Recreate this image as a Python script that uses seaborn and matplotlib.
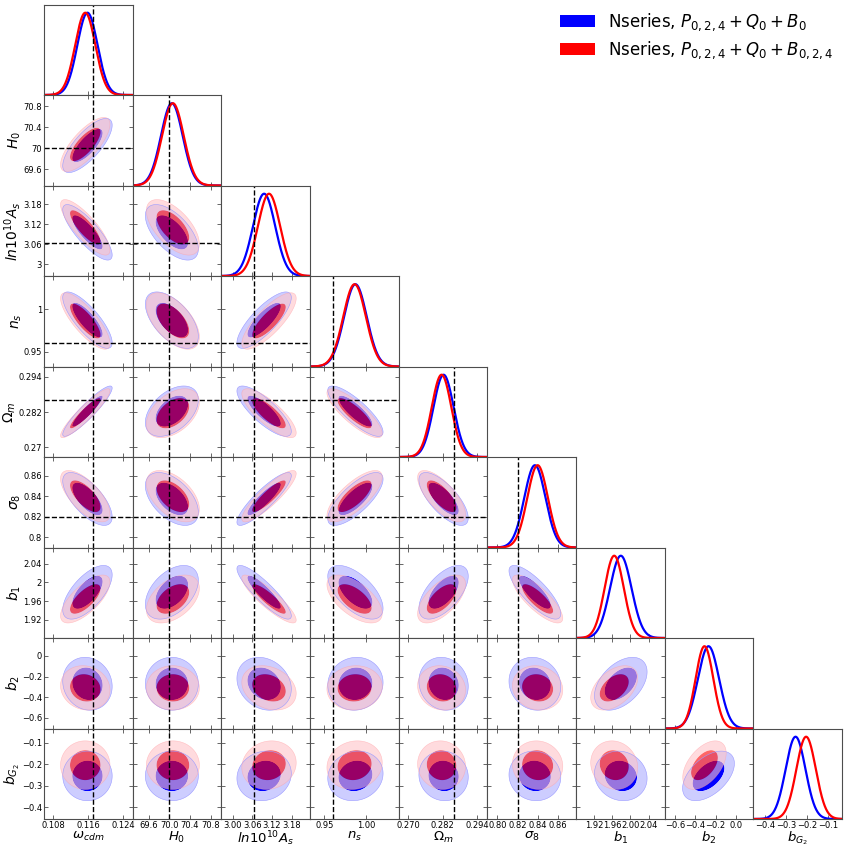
import numpy as np
import matplotlib
matplotlib.use("Agg")
import matplotlib.pyplot as plt
import seaborn as sns
from matplotlib.patches import Patch
from matplotlib.ticker import FuncFormatter

# parameters of the triangle plot
labels = [r'$\omega_{cdm}$', r'$H_0$', r'$ln10^{10}A_s$', r'$n_s$', r'$\Omega_m$',
          r'$\sigma_8$', r'$b_1$', r'$b_2$', r'$b_{G_2}$']
limits = [(0.1059, 0.1261), (69.29, 71.01), (2.965, 3.2365), (0.9327, 1.0387),
          (0.2667, 0.2975), (0.790, 0.878), (1.881, 2.075), (-0.705, 0.175), (-0.455, -0.035)]
ticks = [[0.108, 0.116, 0.124], [69.6, 70.0, 70.4, 70.8], [3.00, 3.06, 3.12, 3.18],
         [0.95, 1.00], [0.270, 0.282, 0.294], [0.80, 0.82, 0.84, 0.86],
         [1.92, 1.96, 2.00, 2.04], [-0.6, -0.4, -0.2, 0.0], [-0.4, -0.3, -0.2, -0.1]]
xfmt = ['%.3f', '%.1f', '%.2f', '%.2f', '%.3f', '%.2f', '%.2f', '%.1f', '%.1f']
truth = [0.1171, 70.0, 3.064, 0.96, 0.286, 0.82, None, None, None]

# posterior summaries (B0 = blue, B024 = red)
mean_b0 = [0.1158, 70.05, 3.096, 0.987, 0.2823, 0.8372, 1.979, -0.27, -0.255]
mean_b024 = [0.1153, 70.07, 3.111, 0.986, 0.2816, 0.8399, 1.9646, -0.31, -0.205]
sigma_b0 = [0.0023, 0.21, 0.034, 0.0135, 0.0035, 0.0105, 0.0235, 0.105, 0.047]
sigma_b024 = [0.0023, 0.21, 0.034, 0.0135, 0.0034, 0.0102, 0.021, 0.088, 0.046]

# correlations, lower triangle row by row
rho_b0 = [
    [],
    [0.75],
    [-0.82, -0.6],
    [-0.8, -0.57, 0.8],
    [0.92, 0.45, -0.8, -0.83],
    [-0.68, -0.5, 0.88, 0.75, -0.72],
    [0.65, 0.45, -0.88, -0.6, 0.6, -0.8],
    [-0.1, 0.0, -0.2, 0.05, -0.1, -0.1, 0.45],
    [0.0, 0.0, 0.1, 0.1, -0.05, -0.05, -0.1, 0.5],
]
rho_b024 = [
    [],
    [0.75],
    [-0.82, -0.6],
    [-0.8, -0.57, 0.8],
    [0.92, 0.45, -0.8, -0.83],
    [-0.68, -0.5, 0.88, 0.75, -0.72],
    [0.7, 0.45, -0.88, -0.6, 0.62, -0.8],
    [-0.1, 0.0, -0.25, 0.05, -0.1, -0.1, 0.45],
    [0.0, 0.0, 0.1, 0.1, -0.05, -0.05, -0.1, 0.5],
]

series = [
    dict(mean=mean_b0, sigma=sigma_b0, rho=rho_b0, line='blue',
         fill=['#0000ff', '#cdcdff'], edge='#9a9aff', alpha=1.0,
         label=r'Nseries, $P_{0,2,4}+Q_0+B_0$'),
    dict(mean=mean_b024, sigma=sigma_b024, rho=rho_b024, line='red',
         fill=['#ff0000', '#ffc4c8'], edge='#ffa0a6', alpha=0.6,
         label=r'Nseries, $P_{0,2,4}+Q_0+B_{0,2,4}$'),
]

sns.set_style("ticks")
plt.rcParams['font.family'] = ['DejaVu Sans']
plt.rcParams['mathtext.fontset'] = 'dejavusans'
plt.rcParams['text.color'] = 'black'
plt.rcParams['axes.labelcolor'] = 'black'
plt.rcParams['xtick.color'] = 'black'
plt.rcParams['ytick.color'] = 'black'

n = len(labels)
fig, axes = plt.subplots(n, n, figsize=(8.47, 8.48), dpi=100)
fig.subplots_adjust(left=44 / 847, right=842 / 847, top=1 - 4.5 / 848,
                    bottom=1 - 819 / 848, wspace=0, hspace=0)

lev = [0, 2.279, 5.991]
spine_c = '0.3'


def fmt_y(v, pos):
    return ('%g' % v).replace('-', '\u2212')


def make_xfmt(f):
    return FuncFormatter(lambda v, pos: (f % v).replace('-', '\u2212'))


for i in range(n):
    for j in range(n):
        ax = axes[i, j]
        if j > i:
            ax.set_axis_off()
            continue
        for sp in ax.spines.values():
            sp.set_visible(True)
            sp.set_color(spine_c)
            sp.set_linewidth(0.8)
        ax.set_xlim(limits[j])
        ax.set_xticks(ticks[j])
        ax.xaxis.set_major_formatter(make_xfmt(xfmt[j]))
        if i == j:
            xg = np.linspace(limits[j][0], limits[j][1], 400)
            for s in series:
                m, sd = s['mean'][j], s['sigma'][j]
                yg = np.exp(-0.5 * ((xg - m) / sd) ** 2)
                sns.lineplot(x=xg, y=yg, ax=ax, color=s['line'], lw=1.6)
            ax.set_ylim(0, 1.1)
            ax.set_yticks([])
            ax.tick_params(axis='x', direction='in', length=3, width=0.6,
                           color=spine_c, labelsize=6, pad=1.5)
            if truth[j] is not None:
                ax.axvline(truth[j], color='k', ls='--', lw=1.0)
        else:
            ax.set_ylim(limits[i])
            ax.set_yticks(ticks[i])
            ax.yaxis.set_major_formatter(FuncFormatter(fmt_y))
            xg = np.linspace(limits[j][0], limits[j][1], 260)
            yg = np.linspace(limits[i][0], limits[i][1], 260)
            X, Y = np.meshgrid(xg, yg)
            for s in series:
                mx, my = s['mean'][j], s['mean'][i]
                sx, sy = s['sigma'][j], s['sigma'][i]
                r = s['rho'][i][j]
                dx, dy = (X - mx) / sx, (Y - my) / sy
                chi2 = (dx ** 2 - 2 * r * dx * dy + dy ** 2) / (1 - r ** 2)
                ax.contourf(X, Y, chi2, levels=lev, colors=s['fill'],
                            alpha=s['alpha'], antialiased=True)
                ax.contour(X, Y, chi2, levels=[lev[2]], colors=[s['edge']],
                           linewidths=0.4, alpha=s['alpha'])
            if truth[j] is not None:
                ax.axvline(truth[j], color='k', ls='--', lw=1.0)
            if truth[i] is not None:
                ax.axhline(truth[i], color='k', ls='--', lw=1.0)
            ax.tick_params(direction='in', top=True, right=True, length=3, width=0.6,
                           color=spine_c, labelsize=6, pad=1.5)
        ax.set_xlabel('')
        ax.set_ylabel('')
        if i == n - 1:
            ax.set_xlabel(labels[j], fontsize=9.5, labelpad=-0.3)
        else:
            ax.tick_params(labelbottom=False)
        if j == 0 and i > 0:
            ax.set_ylabel(labels[i], fontsize=10, labelpad=0)
        else:
            ax.tick_params(labelleft=False)

handles = [Patch(facecolor=s['line'], edgecolor='none', label=s['label']) for s in series]
fig.legend(handles=handles, loc='upper left', bbox_to_anchor=(0.644, 1.004),
           frameon=False, fontsize=12, handlelength=2.05, handleheight=0.75,
           handletextpad=0.8, labelspacing=0.35)

fig.savefig('out.png', dpi=100)
